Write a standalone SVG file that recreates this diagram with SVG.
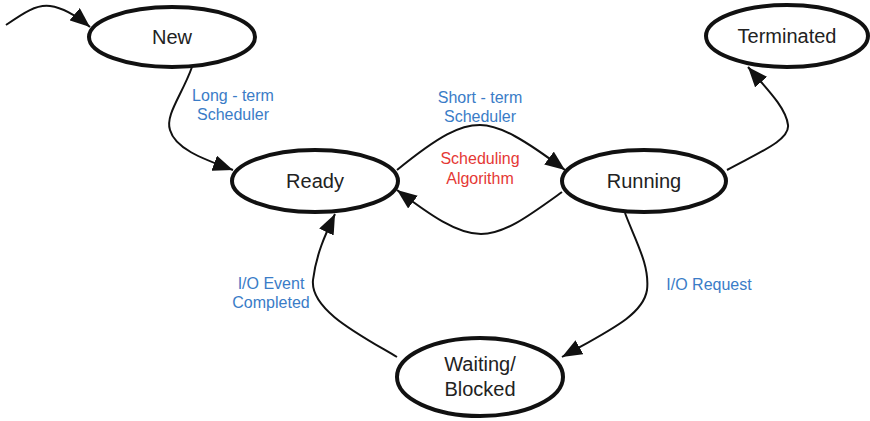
<svg xmlns="http://www.w3.org/2000/svg" width="870" height="421" viewBox="0 0 870 421">
  <style>
    .state ellipse { fill: #ffffff; stroke: #111111; stroke-width: 4; }
    .state text { font-family: "Liberation Sans", Arial, sans-serif; font-size: 20px; fill: #222222; text-anchor: middle; }
    .edge { fill: none; stroke: #111111; stroke-width: 2; marker-end: url(#arrow); }
    .label { font-family: "Liberation Sans", Arial, sans-serif; font-size: 16px; fill: #3a7cc7; text-anchor: middle; }
    .label.algo { fill: #e53935; }
  </style>
  <defs>
    <marker id="arrow" markerUnits="userSpaceOnUse" markerWidth="20" markerHeight="16" refX="20" refY="8" orient="auto">
      <path d="M0,0 L20,8 L0,16 z" fill="#111111"/>
    </marker>
  </defs>

  <rect width="870" height="421" fill="#ffffff"/>

  <!-- transitions -->
  <g id="connectors">
    <path class="edge" d="M 6 25 C 22 14, 36 4, 50 6 C 65 8, 78 17, 90 27"/>
    <path class="edge" d="M 192 67 C 182 95, 165 115, 170 130 C 175 148, 200 158, 233 170"/>
    <path class="edge" d="M 397 170 C 440 135, 460 125, 480 125 C 500 125, 525 140, 565 170"/>
    <path class="edge" d="M 562 192 C 530 215, 505 234, 481 234 C 457 234, 430 215, 397 190"/>
    <path class="edge" d="M 727 170 C 760 152, 790 140, 788 125 C 786 108, 768 90, 748 67"/>
    <path class="edge" d="M 625 213 C 635 240, 650 265, 647 290 C 643 315, 610 330, 562 357"/>
    <path class="edge" d="M 397 357 C 360 335, 310 310, 313 280 C 316 255, 325 235, 335 214"/>
  </g>

  <!-- transition labels -->
  <g id="labels">
    <text class="label" x="233" y="101">Long - term</text>
    <text class="label" x="233" y="120">Scheduler</text>
    <text class="label" x="480" y="103">Short - term</text>
    <text class="label" x="480" y="122">Scheduler</text>
    <text class="label algo" x="480" y="164">Scheduling</text>
    <text class="label algo" x="480" y="184">Algorithm</text>
    <text class="label" x="271" y="289">I/O Event</text>
    <text class="label" x="271" y="308">Completed</text>
    <text class="label" x="709" y="290">I/O Request</text>
  </g>

  <!-- process states -->
  <g id="new" class="state">
    <ellipse cx="172" cy="37" rx="83" ry="30"/>
    <text x="172" y="44">New</text>
  </g>
  <g id="ready" class="state">
    <ellipse cx="315" cy="181" rx="83" ry="31"/>
    <text x="315" y="188">Ready</text>
  </g>
  <g id="running" class="state">
    <ellipse cx="644" cy="181" rx="82" ry="31"/>
    <text x="644" y="188">Running</text>
  </g>
  <g id="terminated" class="state">
    <ellipse cx="787" cy="36" rx="81" ry="31"/>
    <text x="787" y="43">Terminated</text>
  </g>
  <g id="waiting" class="state">
    <ellipse cx="480" cy="377" rx="83" ry="39"/>
    <text x="480" y="371">Waiting/</text>
    <text x="480" y="396">Blocked</text>
  </g>
</svg>
